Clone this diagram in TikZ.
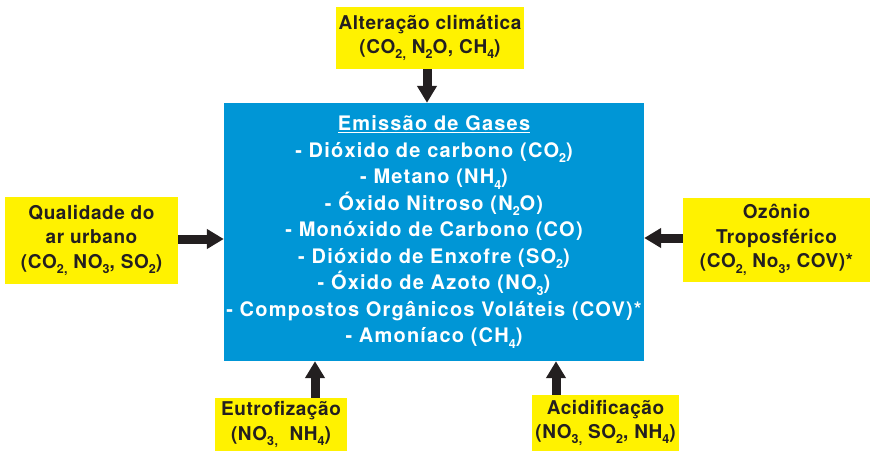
\documentclass[tikz,border=0pt]{standalone}
\usepackage{fontspec}
\setmainfont{TeX Gyre Heros}[LetterSpace=6]
\newfontfamily\yfont{TeX Gyre Heros}[LetterSpace=3]
\usetikzlibrary{arrows.meta,positioning}
\definecolor{ylw}{RGB}{255,242,0}
\definecolor{blu}{RGB}{0,150,214}
\definecolor{ink}{RGB}{35,31,32}
\newcommand{\sbs}[1]{\raisebox{-0.28em}{\fontsize{12.5}{12.5}\selectfont #1}}
\tikzset{
  ybox/.style={fill=ylw, draw=none, text=ink, align=center, inner sep=0pt,
    font=\yfont\bfseries\fontsize{19}{24.5}\selectfont},
  mainbox/.style={fill=blu, draw=none, text=white, align=center, inner sep=0pt,
    font=\bfseries\fontsize{20}{26.5}\selectfont},
  arr/.style={draw=ink, line width=9pt, -{Triangle[width=19pt,length=17pt]}, shorten >=0pt}
}
\begin{document}
\begin{tikzpicture}[x=1pt,y=-1pt]
\useasboundingbox (0,0) rectangle (871,451);
\node[mainbox, minimum width=420pt, minimum height=258pt] (main) at (434,232)
 {\underline{Emissão de Gases}\\
  - Dióxido de carbono (CO\sbs{2})\\
  - Metano (NH\sbs{4})\\
  - Óxido Nitroso (N\sbs{2}O)\\
  - Monóxido de Carbono (CO)\\
  - Dióxido de Enxofre (SO\sbs{2})\\
  - Óxido de Azoto (NO\sbs{3})\\
  - Compostos Orgânicos Voláteis (COV)*\\
  - Amoníaco (CH\sbs{4})};
\node[ybox, minimum width=188pt, minimum height=62pt] (top) at (430,38)
 {Alteração climática\\(CO\sbs{2,} N\sbs{2}O, CH\sbs{4})};
\node[ybox, minimum width=173pt, minimum height=87pt] (left) at (91.5,240.5)
 {Qualidade do\\ar urbano\\(CO\sbs{2,} NO\sbs{3}, SO\sbs{2})};
\node[ybox, minimum width=187pt, minimum height=84pt] (right) at (776.5,240)
 {Ozônio\\Troposférico\\(CO\sbs{2,} No\sbs{3}, COV)*};
\node[ybox, minimum width=132pt, minimum height=53pt] (bl) at (281,424.5)
 {Eutrofização\\(NO\sbs{3,} \ NH\sbs{4})};
\node[ybox, minimum width=147pt, minimum height=56pt] (br) at (605.5,423)
 {Acidificação\\(NO\sbs{3,} SO\sbs{2}, NH\sbs{4})};
\draw[arr] ([xshift=-3pt]top.south) -- ([xshift=-3pt]top.south |- main.north);
\draw[arr] ([yshift=1.5pt]left.east) -- ([yshift=1.5pt]left.east -| main.west);
\draw[arr] ([yshift=2pt]right.west) -- ([yshift=2pt]right.west -| main.east);
\draw[arr] ([xshift=34pt]bl.north) -- ([xshift=34pt]bl.north |- main.south);
\draw[arr] ([xshift=-49.5pt]br.north) -- ([xshift=-49.5pt]br.north |- main.south);
\end{tikzpicture}
\end{document}
